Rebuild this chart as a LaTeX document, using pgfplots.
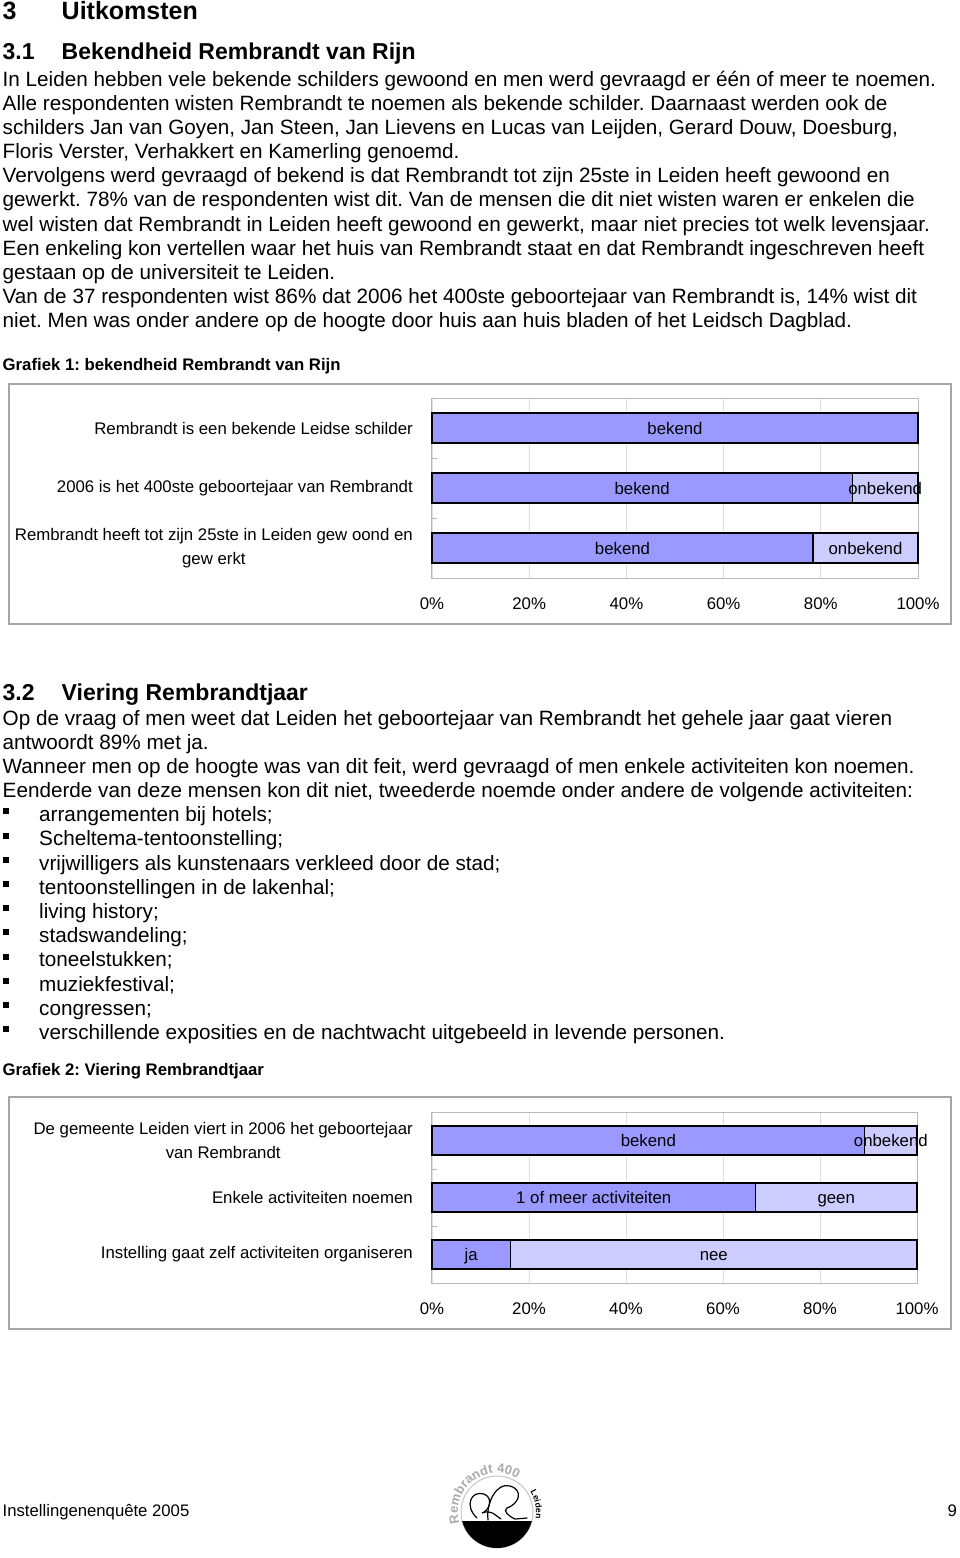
\documentclass[border=0pt]{standalone}
\usepackage{fontspec}
\setmainfont{Liberation Sans}
\usepackage{pgfplots}
\pgfplotsset{compat=1.18}
\usetikzlibrary{decorations.text}
\definecolor{bekend}{RGB}{153,153,255}
\definecolor{onbekend}{RGB}{204,204,255}
\newcommand\body{\fontsize{20.7}{24}\selectfont}
\newcommand\chart{\fontsize{16.8}{24}\selectfont}
\frenchspacing

\pgfplotsset{
  tabel/.style={
    scale only axis, anchor=south west, clip=false,
    xmin=0, xmax=100, ymin=-0.5, ymax=2.5, y dir=reverse,
    xtick={0,20,...,100}, xticklabels={0\%,20\%,40\%,60\%,80\%,100\%},
    ytick={0,1,2}, ytick pos=left,
    xmajorgrids, grid style={gray!25, line width=0.8pt},
    axis line style={gray!55, line width=1pt},
    tick style={gray!55, line width=1pt},
    major tick length=0pt,
    extra y ticks={0.5,1.5}, extra y tick labels={},
    extra y tick style={major tick length=5pt},
    ticklabel style={font=\chart},
    yticklabel style={align=center, inner sep=0pt, xshift=-19pt},
    xticklabel style={inner sep=0pt, yshift=-20pt},
  },
  seg/.style={xbar, bar shift=0pt, draw=black, line width=1.6pt},
  lbl/.style={draw=none, mark=none, nodes near coords, point meta=explicit symbolic,
    nodes near coords style={anchor=center, font=\chart, inner sep=0pt,
      text height=12pt, text depth=0pt, black}},
}

\begin{document}
\begin{tikzpicture}[x=1pt, y=1pt, t/.style={anchor=base west, inner sep=0pt, font=\body}]
\fill[white] (0,0) rectangle (960,-1558);
\path[use as bounding box] (0,0) rectangle (960,-1558);

% koppen en tekst
\node[anchor=base west, inner sep=0pt, font=\fontsize{25}{30}\selectfont\bfseries] at (2.5,-19.5) {3};
\node[anchor=base west, inner sep=0pt, font=\fontsize{25}{30}\selectfont\bfseries] at (61.5,-19.5) {Uitkomsten};
\node[anchor=base west, inner sep=0pt, font=\fontsize{23}{28}\selectfont\bfseries] at (2.5,-59.3) {3.1};
\node[anchor=base west, inner sep=0pt, font=\fontsize{23}{28}\selectfont\bfseries] at (61.5,-59.3) {Bekendheid Rembrandt van Rijn};

\node[t] at (2.5,-86) {In Leiden hebben vele bekende schilders gewoond en men werd gevraagd er één of meer te noemen.};
\node[t] at (2.5,-110) {Alle respondenten wisten Rembrandt te noemen als bekende schilder. Daarnaast werden ook de};
\node[t] at (2.5,-134) {schilders Jan van Goyen, Jan Steen, Jan Lievens en Lucas van Leijden, Gerard Douw, Doesburg,};
\node[t] at (2.5,-158.3) {Floris Verster, Verhakkert en Kamerling genoemd.};
\node[t] at (2.5,-182.3) {Vervolgens werd gevraagd of bekend is dat Rembrandt tot zijn 25ste in Leiden heeft gewoond en};
\node[t] at (2.5,-206.6) {gewerkt. 78\% van de respondenten wist dit. Van de mensen die dit niet wisten waren er enkelen die};
\node[t] at (2.5,-231) {wel wisten dat Rembrandt in Leiden heeft gewoond en gewerkt, maar niet precies tot welk levensjaar.};
\node[t] at (2.5,-255) {Een enkeling kon vertellen waar het huis van Rembrandt staat en dat Rembrandt ingeschreven heeft};
\node[t] at (2.5,-279) {gestaan op de universiteit te Leiden.};
\node[t] at (2.5,-303) {Van de 37 respondenten wist 86\% dat 2006 het 400ste geboortejaar van Rembrandt is, 14\% wist dit};
\node[t] at (2.5,-327) {niet. Men was onder andere op de hoogte door huis aan huis bladen of het Leidsch Dagblad.};

\node[anchor=base west, inner sep=0pt, font=\fontsize{16.75}{20}\selectfont\bfseries] at (2.5,-370) {Grafiek 1: bekendheid Rembrandt van Rijn};

% grafiek 1
\draw[gray!70, line width=1.2pt] (9,-384) rectangle (951,-624);
\begin{axis}[tabel, at={(432pt,-578pt)}, width=486pt, height=180pt,
  yticklabels={Rembrandt is een bekende Leidse schilder,
    2006 is het 400ste geboortejaar van Rembrandt,
    {Rembrandt heeft tot zijn 25ste in Leiden gew oond en\\gew erkt}}]
\addplot[seg, bar width=30pt, fill=onbekend] coordinates {(100,0) (100,1) (100,2)};
\addplot[seg, bar width=30pt, fill=bekend] coordinates {(100,0) (86.5,1) (78.4,2)};
\addplot[lbl] coordinates {(50,0) [bekend] (43.25,1) [bekend] (93.25,1) [onbekend]
  (39.2,2) [bekend] (89.2,2) [onbekend]};
\end{axis}

\node[anchor=base west, inner sep=0pt, font=\fontsize{23}{28}\selectfont\bfseries] at (2.5,-700.7) {3.2};
\node[anchor=base west, inner sep=0pt, font=\fontsize{23}{28}\selectfont\bfseries] at (61.5,-700.7) {Viering Rembrandtjaar};
\node[t] at (2.5,-725) {Op de vraag of men weet dat Leiden het geboortejaar van Rembrandt het gehele jaar gaat vieren};
\node[t] at (2.5,-749) {antwoordt 89\% met ja.};
\node[t] at (2.5,-773.3) {Wanneer men op de hoogte was van dit feit, werd gevraagd of men enkele activiteiten kon noemen.};
\node[t] at (2.5,-797.3) {Eenderde van deze mensen kon dit niet, tweederde noemde onder andere de volgende activiteiten:};

\foreach [count=\i] \s in {arrangementen bij hotels;, Scheltema-tentoonstelling;,
  vrijwilligers als kunstenaars verkleed door de stad;, tentoonstellingen in de lakenhal;,
  living history;, stadswandeling;, toneelstukken;, muziekfestival;, congressen;,
  verschillende exposities en de nachtwacht uitgebeeld in levende personen.}{
  \pgfmathsetmacro\yb{-821.7-24.2*(\i-1)}
  \fill[black] (3.3,\yb+7.4) rectangle (9.3,\yb+13.4);
  \node[t] at (39,\yb) {\s};
}

\node[anchor=base west, inner sep=0pt, font=\fontsize{16.75}{20}\selectfont\bfseries] at (2.5,-1075) {Grafiek 2: Viering Rembrandtjaar};

% grafiek 2
\draw[gray!70, line width=1.2pt] (9,-1097) rectangle (951,-1329);
\begin{axis}[tabel, at={(432pt,-1283pt)}, width=485pt, height=171pt,
  yticklabels={{De gemeente Leiden viert in 2006 het geboortejaar\\van Rembrandt},
    Enkele activiteiten noemen,
    Instelling gaat zelf activiteiten organiseren}]
\addplot[seg, bar width=29pt, fill=onbekend] coordinates {(100,0) (100,1) (100,2)};
\addplot[seg, bar width=29pt, fill=bekend] coordinates {(89.2,0) (66.7,1) (16.2,2)};
\addplot[lbl] coordinates {(44.6,0) [bekend] (94.6,0) [onbekend]
  (33.35,1) [1 of meer activiteiten] (83.35,1) [geen]
  (8.1,2) [ja] (58.1,2) [nee]};
\end{axis}

% voettekst
\node[anchor=base west, inner sep=0pt, font=\fontsize{16.7}{20}\selectfont] at (2.5,-1516) {Instellingenenquête 2005};
\node[anchor=base east, inner sep=0pt, font=\fontsize{16.7}{20}\selectfont] at (957,-1516) {9};

% logo
\begin{scope}[shift={(497,-1512)}]
  \draw[gray!45, line width=1pt] (0,0) circle (36);
  \fill[black] (194.48:36) arc[start angle=194.48, end angle=345.52, radius=36] -- cycle;
  \path[decorate, decoration={text along path, text align=center,
    text={|\fontsize{13}{13}\selectfont\bfseries\color{gray!65}|Rembrandt 400}}]
    (205:39) arc[start angle=205, end angle=50, radius=39];
  \path[decorate, decoration={text along path, text align=center,
    text={|\fontsize{8.5}{8.5}\selectfont\bfseries|Leiden}}]
    (44:39) arc[start angle=44, end angle=-22, radius=39];
  \draw[line width=1.2pt, line cap=round]
    (-20,-6) .. controls (-33,6) and (-26,22) .. (-13,18)
    .. controls (-3,14) and (-8,1) .. (-15,-1)
    .. controls (-5,3) and (0,-5) .. (4,-7);
  \draw[line width=1.2pt, line cap=round]
    (-9,-8) .. controls (-11,10) and (0,30) .. (13,26)
    .. controls (27,22) and (22,8) .. (10,4)
    .. controls (5,1) and (13,-5) .. (18,-7) -- (30,-6);
\end{scope}
\end{tikzpicture}
\end{document}
